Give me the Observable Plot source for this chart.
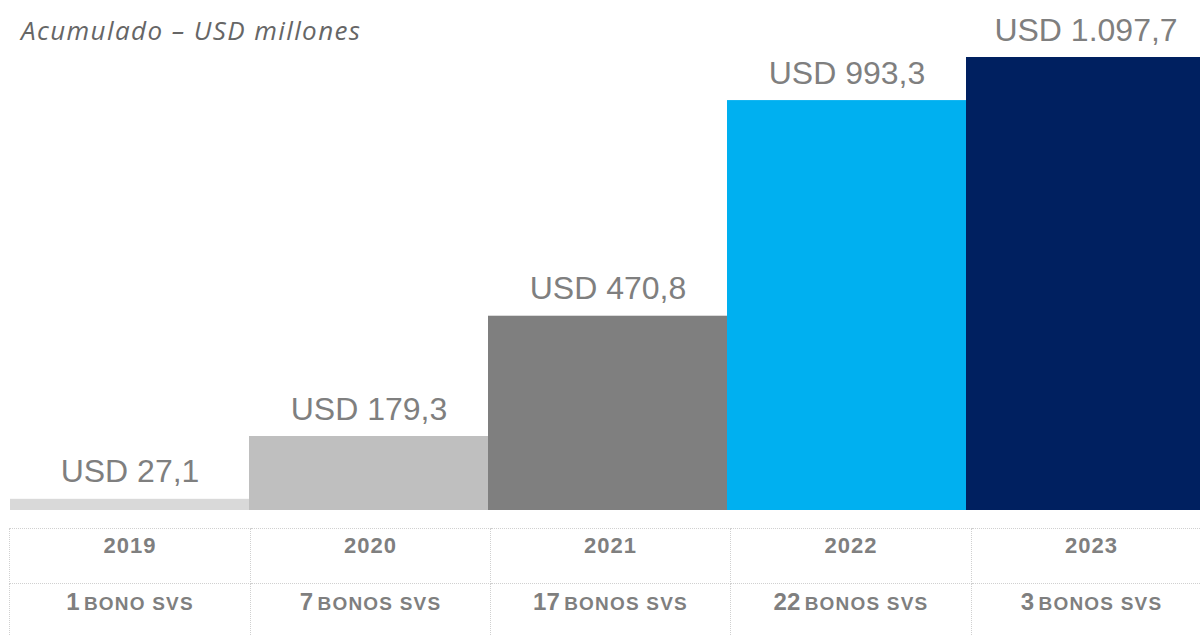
<!DOCTYPE html>
<html>
<head>
<meta charset="utf-8">
<script src="https://cdn.jsdelivr.net/npm/d3@7"></script>
<script src="https://cdn.jsdelivr.net/npm/@observablehq/plot@0.6"></script>
<style>
  html, body { margin: 0; padding: 0; background: #fff; }
  #wrap { position: relative; width: 1200px; height: 635px; overflow: hidden; font-family: "Liberation Sans", Arial, sans-serif; }
  #title { position: absolute; left: 21px; top: 12px; font-family: "Open Sans", sans-serif; font-style: italic; font-size: 26px; letter-spacing: 1.4px; color: #666666; white-space: nowrap; }
  #chart svg { display: block; overflow: visible; }
  table { border-collapse: collapse; margin-left: 9px; margin-top: 8px; table-layout: fixed; width: 1198px; }
  td { border: 1px dotted #d0d0d0; height: 49px; padding: 5px 0 0 0; vertical-align: top; text-align: center; font-weight: bold; color: #7f7f7f; line-height: 1.1; white-space: nowrap; }
  td.yr { font-size: 22px; letter-spacing: 1px; }
  td.bn .n { font-size: 24px; }
  td.bn .w { font-size: 19px; letter-spacing: 1.2px; }
</style>
</head>
<body>
<div id="wrap">
  <div id="chart"></div>
  <div id="title">Acumulado – USD millones</div>
  <table id="tbl"></table>
</div>
<script>
const years = ["2019", "2020", "2021", "2022", "2023"];
const values = [27.1, 179.3, 470.8, 993.3, 1097.7];
const valueLabels = ["USD 27,1", "USD 179,3", "USD 470,8", "USD 993,3", "USD 1.097,7"];
const bondCounts = [1, 7, 17, 22, 3];
const bondWords = ["BONO SVS", "BONOS SVS", "BONOS SVS", "BONOS SVS", "BONOS SVS"];
const colors = ["#d9d9d9", "#bfbfbf", "#7f7f7f", "#00b0f0", "#002060"];

const data = years.map((y, i) => ({year: y, value: values[i], label: valueLabels[i]}));

const chart = Plot.plot({
  width: 1200,
  height: 520,
  marginLeft: 10,
  marginRight: 0,
  marginTop: 57,
  marginBottom: 10,
  x: {domain: years, padding: 0, axis: null, range: [10, 1205]},
  y: {domain: [0, 1097.7], axis: null},
  color: {domain: years, range: colors},
  marks: [
    Plot.barY(data, {x: "year", y: "value", fill: "year"}),
    Plot.text(data, {x: "year", y: "value", text: "label", dy: -17, lineAnchor: "bottom",
      fontSize: 32, fill: "#7f7f7f", fontFamily: "Liberation Sans, Arial, sans-serif"})
  ]
});
document.getElementById("chart").appendChild(chart);

const widths = [240, 239, 239, 240, 239];
const tbl = document.getElementById("tbl");
const r1 = tbl.insertRow();
const r2 = tbl.insertRow();
years.forEach((y, i) => {
  const c1 = r1.insertCell();
  c1.className = "yr";
  c1.style.width = widths[i] + "px";
  c1.textContent = y;
  const c2 = r2.insertCell();
  c2.className = "bn";
  c2.innerHTML = `<span class="n">${bondCounts[i]}</span> <span class="w">${bondWords[i]}</span>`;
});
</script>
</body>
</html>
